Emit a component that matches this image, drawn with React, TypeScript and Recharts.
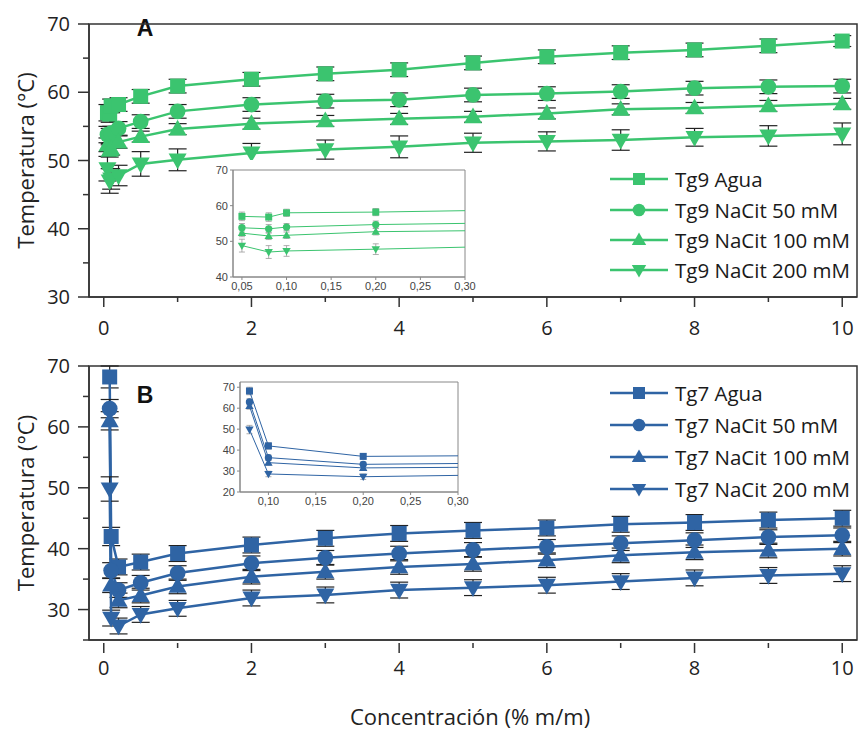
import { ErrorBar, Legend, Line, LineChart, ReferenceArea, XAxis, YAxis } from 'recharts';

// Concentraciones (% m/m)
const concA = [0.05, 0.08, 0.1, 0.2, 0.5, 1, 2, 3, 4, 5, 6, 7, 8, 9, 10];
const concB = [0.08, 0.1, 0.2, 0.5, 1, 2, 3, 4, 5, 6, 7, 8, 9, 10];

// Panel A - Tg9 (°C)
const tg9Agua = [57.0, 56.8, 58.0, 58.2, 59.4, 60.9, 61.9, 62.7, 63.3, 64.3, 65.2, 65.8, 66.2, 66.8, 67.5];
const tg9Cit50 = [53.8, 53.5, 54.0, 54.7, 55.7, 57.2, 58.2, 58.7, 58.9, 59.6, 59.8, 60.1, 60.6, 60.8, 60.9];
const tg9Cit100 = [52.3, 51.5, 51.7, 52.7, 53.5, 54.6, 55.4, 55.8, 56.1, 56.4, 56.9, 57.5, 57.7, 58.0, 58.3];
const tg9Cit200 = [48.8, 47.0, 47.3, 47.8, 49.5, 50.1, 51.1, 51.6, 52.0, 52.6, 52.8, 53.0, 53.4, 53.6, 53.9];

const tg9AguaErr = [1.2, 1.2, 1.0, 1.0, 1.0, 1.0, 1.0, 1.0, 1.0, 1.0, 1.0, 1.0, 1.0, 1.0, 0.8];
const tg9Cit50Err = [1.2, 1.2, 1.0, 1.0, 1.0, 1.0, 1.0, 1.0, 1.0, 1.0, 1.0, 1.0, 1.0, 1.0, 1.0];
const tg9Cit100Err = [1.0, 1.0, 0.9, 0.9, 0.8, 0.8, 0.8, 0.8, 0.8, 0.8, 0.8, 0.8, 0.8, 0.8, 0.8];
const tg9Cit200Err = [1.8, 1.8, 1.5, 1.5, 1.8, 1.6, 1.4, 1.4, 1.6, 1.4, 1.4, 1.5, 1.3, 1.5, 1.6];

// Panel B - Tg7 (°C)
const tg7Agua = [68.2, 42.0, 37.0, 37.8, 39.2, 40.6, 41.7, 42.5, 43.0, 43.4, 44.0, 44.3, 44.7, 45.0];
const tg7Cit50 = [63.0, 36.4, 33.2, 34.4, 36.0, 37.6, 38.5, 39.2, 39.8, 40.3, 40.9, 41.4, 41.9, 42.2];
const tg7Cit100 = [61.0, 34.0, 31.5, 32.3, 33.8, 35.4, 36.2, 37.0, 37.5, 38.1, 38.9, 39.4, 39.7, 40.0];
const tg7Cit200 = [49.8, 28.6, 27.3, 29.2, 30.2, 31.9, 32.4, 33.2, 33.6, 34.0, 34.6, 35.2, 35.6, 35.9];

const tg7AguaErr = [1.8, 1.5, 1.3, 1.3, 1.3, 1.3, 1.3, 1.3, 1.3, 1.3, 1.3, 1.3, 1.3, 1.3];
const tg7Cit50Err = [1.5, 1.3, 1.2, 1.2, 1.2, 1.2, 1.2, 1.2, 1.2, 1.2, 1.2, 1.2, 1.2, 1.2];
const tg7Cit100Err = [1.5, 1.2, 1.2, 1.2, 1.2, 1.2, 1.2, 1.2, 1.2, 1.2, 1.2, 1.2, 1.2, 1.2];
const tg7Cit200Err = [2.0, 1.3, 1.3, 1.3, 1.3, 1.3, 1.3, 1.3, 1.3, 1.3, 1.3, 1.3, 1.3, 1.3];

const mainTicksY = [25, 30, 35, 40, 45, 50, 55, 60, 65, 70];
const mainTicksX = [0, 1, 2, 3, 4, 5, 6, 7, 8, 9, 10];
const insetTicksA = [0.05, 0.1, 0.15, 0.2, 0.25, 0.3];
const insetTicksB = [0.1, 0.15, 0.2, 0.25, 0.3];
const insetTicksYA = [40, 50, 60, 70];
const insetTicksYB = [20, 30, 40, 50, 60, 70];

const GREEN = '#3bc46f';
const BLUE = '#2f64a4';
const FONT = '"Open Sans", "Noto Sans", sans-serif';
const SMALL_FONT = '"Liberation Sans", Arial, sans-serif';
const AXIS_X = 89; // borde izquierdo del área de trazado

type Shape = 'square' | 'circle' | 'up' | 'down';

interface Serie {
  key: string;
  name: string;
  shape: Shape;
  values: number[];
  errors: number[];
}

const seriesA: Serie[] = [
  { key: 'agua', name: 'Tg9 Agua', shape: 'square', values: tg9Agua, errors: tg9AguaErr },
  { key: 'c50', name: 'Tg9 NaCit 50 mM', shape: 'circle', values: tg9Cit50, errors: tg9Cit50Err },
  { key: 'c100', name: 'Tg9 NaCit 100 mM', shape: 'up', values: tg9Cit100, errors: tg9Cit100Err },
  { key: 'c200', name: 'Tg9 NaCit 200 mM', shape: 'down', values: tg9Cit200, errors: tg9Cit200Err },
];

const seriesB: Serie[] = [
  { key: 'agua', name: 'Tg7 Agua', shape: 'square', values: tg7Agua, errors: tg7AguaErr },
  { key: 'c50', name: 'Tg7 NaCit 50 mM', shape: 'circle', values: tg7Cit50, errors: tg7Cit50Err },
  { key: 'c100', name: 'Tg7 NaCit 100 mM', shape: 'up', values: tg7Cit100, errors: tg7Cit100Err },
  { key: 'c200', name: 'Tg7 NaCit 200 mM', shape: 'down', values: tg7Cit200, errors: tg7Cit200Err },
];

function buildRows(conc: number[], series: Serie[]) {
  return conc.map((x, i) => {
    const row: Record<string, number> = { x };
    series.forEach((s) => {
      row[s.key] = s.values[i];
      row[s.key + 'Err'] = s.errors[i];
    });
    return row;
  });
}

const rowsA = buildRows(concA, seriesA);
const rowsB = buildRows(concB, seriesB);

function Marker({ shape, cx, cy, size, fill }: { shape: Shape; cx?: number; cy?: number; size: number; fill: string }) {
  if (cx == null || cy == null) return null;
  const h = size / 2;
  if (shape === 'square') return <rect x={cx - h} y={cy - h} width={size} height={size} fill={fill} />;
  if (shape === 'circle') return <circle cx={cx} cy={cy} r={h * 1.05} fill={fill} />;
  const s = shape === 'up' ? 1 : -1;
  const pts = [
    [cx, cy - s * h * 1.25],
    [cx - h * 1.2, cy + s * h * 0.85],
    [cx + h * 1.2, cy + s * h * 0.85],
  ];
  return <polygon points={pts.map((p) => p.join(',')).join(' ')} fill={fill} />;
}

// ejes principales: marcas mayores con etiqueta, menores sin ella
function YTick(props: any) {
  const { y, payload } = props;
  const major = payload.value % 10 === 0;
  return (
    <g>
      <line x1={AXIS_X} x2={AXIS_X - (major ? 11 : 6)} y1={y} y2={y} stroke="#333" strokeWidth={1.5} />
      {major && (
        <text x={AXIS_X - 19} y={y} dy="0.36em" textAnchor="end" fontSize={20} fill="#222" fontFamily={FONT}>
          {payload.value}
        </text>
      )}
    </g>
  );
}

function makeXTick(axisY: number, gap: number, labelOffset: number) {
  return (props: any) => {
    const { x, payload } = props;
    const major = payload.value % 2 === 0;
    return (
      <g>
        <line x1={x} x2={x} y1={axisY + gap} y2={axisY + gap + (major ? 10 : 5)} stroke="#333" strokeWidth={1.5} />
        {major && (
          <text x={x} y={axisY + labelOffset} dy="0.36em" textAnchor="middle" fontSize={20} fill="#222" fontFamily={FONT}>
            {payload.value}
          </text>
        )}
      </g>
    );
  };
}

function YLabel(props: any) {
  const { viewBox } = props;
  const cx = 25;
  const cy = viewBox.y + viewBox.height / 2;
  return (
    <text x={cx} y={cy} transform={`rotate(-90, ${cx}, ${cy})`} textAnchor="middle" dominantBaseline="central" fontSize={22} fill="#222" fontFamily={FONT}>
      Temperatura (°C)
    </text>
  );
}

function LegendBox({ series, color, rowHeight }: { series: Serie[]; color: string; rowHeight: number }) {
  return (
    <div style={{ fontFamily: FONT }}>
      {series.map((s) => (
        <div key={s.key} style={{ display: 'flex', alignItems: 'center', height: rowHeight }}>
          <svg width={66} height={24} style={{ display: 'block' }}>
            <line x1={5} x2={63} y1={12} y2={12} stroke={color} strokeWidth={2.5} />
            <Marker shape={s.shape} cx={34} cy={12} size={12} fill={color} />
          </svg>
          <span style={{ fontSize: 20.5, color: '#1a1a1a', marginLeft: 4, whiteSpace: 'nowrap' }}>{s.name}</span>
        </div>
      ))}
    </div>
  );
}

function MainPanel({ rows, series, color, yMin, legendTop, legendRow, tag, tagY, xGap, xLabelOffset, height, xHeight, showXTitle }: any) {
  const yTicks = mainTicksY.filter((t) => t >= yMin);
  const plotBottom = height - xHeight;
  return (
    <LineChart width={858} height={height} data={rows} margin={{ top: 24, right: 1, left: 0, bottom: 0 }}>
      <XAxis
        dataKey="x"
        type="number"
        domain={[-0.2, 10.2]}
        ticks={mainTicksX}
        interval={0}
        tick={makeXTick(plotBottom, xGap, xLabelOffset)}
        tickLine={false}
        height={xHeight}
        axisLine={{ stroke: '#333', strokeWidth: 1.5 }}
        label={
          showXTitle
            ? (p: any) => (
                <text x={p.viewBox.x + p.viewBox.width / 2 - 3} y={plotBottom + 76} textAnchor="middle" dominantBaseline="central" fontSize={22} fill="#222" fontFamily={FONT}>
                  Concentración (% m/m)
                </text>
              )
            : undefined
        }
      />
      <YAxis
        type="number"
        domain={[yMin, 70]}
        ticks={yTicks}
        interval={0}
        tick={YTick}
        tickLine={false}
        width={AXIS_X}
        axisLine={{ stroke: '#333', strokeWidth: 1.5 }}
        label={<YLabel />}
      />
      <ReferenceArea x1={-0.2} x2={10.2} y1={yMin} y2={70} fill="none" stroke="#333" strokeWidth={1.5} />
      {series.map((s: Serie) => (
        <Line
          key={s.key}
          dataKey={s.key}
          name={s.name}
          stroke={color}
          strokeWidth={2.5}
          isAnimationActive={false}
          dot={(p: any) => <Marker key={`${s.key}-${p.index}`} shape={s.shape} cx={p.cx} cy={p.cy} size={15} fill={color} />}
        >
          <ErrorBar dataKey={s.key + 'Err'} width={9} stroke="#222" strokeWidth={1.2} direction="y" />
        </Line>
      ))}
      <Legend
        layout="vertical"
        align="center"
        verticalAlign="middle"
        wrapperStyle={{ left: 605, top: legendTop, width: 253 }}
        content={() => <LegendBox series={series} color={color} rowHeight={legendRow} />}
      />
      <text x={145} y={tagY} textAnchor="middle" dominantBaseline="central" fontSize={23} fontWeight="bold" fill="#111" fontFamily={SMALL_FONT}>
        {tag}
      </text>
    </LineChart>
  );
}

function InsetTickX(props: any) {
  const { x, y, payload } = props;
  return (
    <text x={x} y={y} dy="0.75em" textAnchor="middle" fontSize={11} fill="#444" fontFamily={SMALL_FONT}>
      {payload.value.toFixed(2).replace('.', ',')}
    </text>
  );
}

function InsetTickY(props: any) {
  const { x, y, payload } = props;
  return (
    <text x={x} y={y} dy="0.35em" textAnchor="end" fontSize={11} fill="#444" fontFamily={SMALL_FONT}>
      {payload.value}
    </text>
  );
}

function InsetPanel({ rows, series, color, xDomain, yDomain, xTicks, yTicks, width, height, yWidth }: any) {
  return (
    <LineChart width={width} height={height} data={rows} margin={{ top: 10, right: 16, left: 0, bottom: 0 }} style={{ background: '#fff' }}>
      <XAxis
        dataKey="x"
        type="number"
        domain={xDomain}
        allowDataOverflow
        ticks={xTicks}
        interval={0}
        tick={InsetTickX}
        tickSize={3}
        tickMargin={2}
        height={18}
        axisLine={{ stroke: '#888' }}
        tickLine={{ stroke: '#888' }}
      />
      <YAxis
        type="number"
        domain={yDomain}
        allowDataOverflow
        ticks={yTicks}
        interval={0}
        tick={InsetTickY}
        tickSize={3}
        tickMargin={2}
        width={yWidth}
        axisLine={{ stroke: '#888' }}
        tickLine={{ stroke: '#888' }}
      />
      <ReferenceArea x1={xDomain[0]} x2={xDomain[1]} y1={yDomain[0]} y2={yDomain[1]} fill="none" stroke="#888" strokeWidth={1} />
      {series.map((s: Serie) => (
        <Line
          key={s.key}
          dataKey={s.key}
          stroke={color}
          strokeWidth={1}
          isAnimationActive={false}
          dot={(p: any) => <Marker key={`${s.key}-${p.index}`} shape={s.shape} cx={p.cx} cy={p.cy} size={7} fill={color} />}
        >
          <ErrorBar dataKey={s.key + 'Err'} width={3} stroke="#999" strokeWidth={0.8} direction="y" />
        </Line>
      ))}
    </LineChart>
  );
}

export default function App() {
  return (
    <div style={{ position: 'fixed', left: 0, top: 0, width: 858, height: 731, background: '#fff', overflow: 'hidden' }}>
      <div style={{ position: 'absolute', left: 0, top: 0 }}>
        <MainPanel rows={rowsA} series={seriesA} color={GREEN} yMin={30} legendTop={164} legendRow={30.4} tag="A" tagY={28} xGap={0} xLabelOffset={31} height={340} xHeight={43} showXTitle={false} />
      </div>
      <div style={{ position: 'absolute', left: 200, top: 160 }}>
        <InsetPanel rows={rowsA} series={seriesA} color={GREEN} xDomain={[0.04, 0.3]} yDomain={[40, 70]} xTicks={insetTicksA} yTicks={insetTicksYA} width={281} height={135} yWidth={33} />
      </div>
      <div style={{ position: 'absolute', left: 0, top: 342 }}>
        <MainPanel rows={rowsB} series={seriesB} color={BLUE} yMin={25} legendTop={35} legendRow={32} tag="B" tagY={53} xGap={3} xLabelOffset={28} height={389} xHeight={91} showXTitle />
      </div>
      <div style={{ position: 'absolute', left: 205, top: 372 }}>
        <InsetPanel rows={rowsB} series={seriesB} color={BLUE} xDomain={[0.07, 0.3]} yDomain={[20, 72.5]} xTicks={insetTicksB} yTicks={insetTicksYB} width={269} height={138} yWidth={35} />
      </div>
    </div>
  );
}
